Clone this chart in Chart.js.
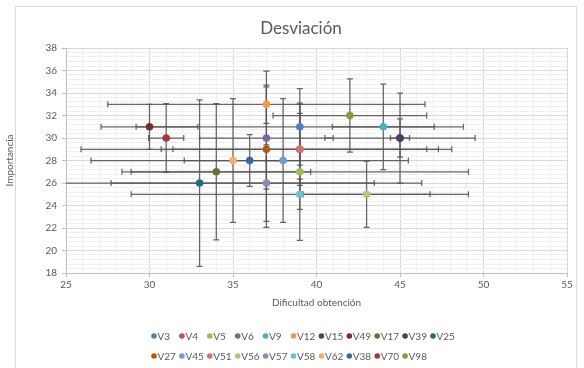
<!DOCTYPE html>
<html><head><meta charset="utf-8">
<script src="https://cdn.jsdelivr.net/npm/chart.js@4.4.0/dist/chart.umd.min.js"></script>
<style>
html,body{margin:0;padding:0;background:#fff;}
#wrap{position:relative;width:584px;height:368px;overflow:hidden;}
#frame{position:absolute;left:15px;top:6px;width:562px;height:420px;border:1px solid #d9d9d9;pointer-events:none;box-sizing:border-box;}
canvas{display:block;}
</style></head><body>
<div id="wrap"><canvas id="c" width="584" height="368"></canvas><div id="frame"></div></div>
<script>
const seriesNames   = ['V3','V4','V5','V6','V9','V12','V15','V49','V17','V39','V25','V27','V45','V51','V56','V57','V58','V62','V38','V70','V98'];
const difficulty    = [39, 39, 39, 37, 44, 37, 45, 30, 34, 45, 33, 37, 38, 39, 43, 37, 39, 35, 36, 31, 42];
const importance    = [31, 29, 27, 30, 31, 33, 30, 31, 27, 30, 26, 29, 28, 29, 25, 26, 25, 28, 28, 30, 32];
const difficultyErr = [9.8, 7.6, 10.1, 4.0, 3.05, 9.5, 0.57, 2.9, 5.65, 4.5, 10.46, 11.1, 1.0, 8.3, 3.8, 9.3, 10.1, 2.92, 9.5, 1.05, 4.6];
const importanceErr = [3.4, 4.0, 6.1, 4.55, 3.8, 1.7, 1.7, 2.0, 6.05, 4.0, 7.4, 6.95, 5.5, 3.2, 2.95, 3.4, 1.35, 5.5, 2.3, 3.05, 3.25];
const xMajorTicks   = [25, 30, 35, 40, 45, 50, 55];
const yMajorTicks   = [18, 20, 22, 24, 26, 28, 30, 32, 34, 36, 38];

const seriesColors = ['#4F81BD','#C0504D','#9BBB59','#8064A2','#4BACC6','#F79646','#2C4D75','#772C2A','#5F7530','#4D3B62','#276A7C','#B65708','#729ACA','#CD7371','#AFC97A','#9983B5','#6FBDD1','#F9AB6B','#3A679C','#9E3B38','#7E9D40'];

const FONT = 'Lato, "Open Sans", "Noto Sans", sans-serif';
const TXT = '#595959';
const isMajor = (arr, v) => arr.some(m => Math.abs(m - v) < 1e-6);

const N = seriesNames.length;
const datasets = seriesNames.map((name, i) => ({
  label: name,
  data: [{x: difficulty[i], y: importance[i]}],
  backgroundColor: seriesColors[i],
  borderColor: seriesColors[i],
  borderWidth: 0.5,
  pointRadius: 3.6,
  pointHoverRadius: 3.6,
  order: N - i
}));

const errorBars = {
  id: 'errorBars',
  beforeDatasetsDraw(chart) {
    const {ctx, chartArea: a, scales: {x, y}} = chart;
    ctx.save();
    ctx.beginPath();
    ctx.rect(a.left, a.top, a.right - a.left, a.bottom - a.top);
    ctx.clip();
    ctx.strokeStyle = 'rgba(85,85,85,0.9)';
    ctx.lineWidth = 1.25;
    const cap = 3;
    for (let i = 0; i < N; i++) {
      const px = x.getPixelForValue(difficulty[i]);
      const py = y.getPixelForValue(importance[i]);
      const x1 = x.getPixelForValue(difficulty[i] - difficultyErr[i]);
      const x2 = x.getPixelForValue(difficulty[i] + difficultyErr[i]);
      const y1 = y.getPixelForValue(importance[i] + importanceErr[i]);
      const y2 = y.getPixelForValue(importance[i] - importanceErr[i]);
      ctx.beginPath();
      ctx.moveTo(x1, py); ctx.lineTo(x2, py);
      ctx.moveTo(x1, py - cap); ctx.lineTo(x1, py + cap);
      ctx.moveTo(x2, py - cap); ctx.lineTo(x2, py + cap);
      ctx.moveTo(px, y1); ctx.lineTo(px, y2);
      ctx.moveTo(px - cap, y1); ctx.lineTo(px + cap, y1);
      ctx.moveTo(px - cap, y2); ctx.lineTo(px + cap, y2);
      ctx.stroke();
    }
    ctx.restore();
  }
};

const rowLegend = {
  id: 'rowLegend',
  afterDraw(chart) {
    const ctx = chart.ctx;
    ctx.save();
    ctx.font = '10px ' + FONT;
    ctx.textBaseline = 'middle';
    ctx.textAlign = 'left';
    const perRow = 11;
    for (let i = 0; i < N; i++) {
      const row = Math.floor(i / perRow);
      const col = i % perRow;
      const cx = 154 + col * 27.9;
      const cy = 336 + row * 20;
      ctx.fillStyle = seriesColors[i];
      ctx.beginPath();
      ctx.arc(cx, cy, 2.8, 0, Math.PI * 2);
      ctx.fill();
      ctx.fillStyle = TXT;
      ctx.fillText(seriesNames[i], cx + 3.5, cy + 0.5);
    }
    ctx.restore();
  }
};

const titlePos = {
  id: 'titlePos',
  afterLayout(chart) {
    if (chart.titleBlock) { chart.titleBlock.left = 20; chart.titleBlock.right = 582; }
  }
};

new Chart(document.getElementById('c'), {
  type: 'scatter',
  data: { datasets },
  plugins: [errorBars, rowLegend, titlePos],
  options: {
    responsive: false,
    animation: false,
    devicePixelRatio: 1,
    layout: { padding: { top: 2.6, right: 17, bottom: 55, left: 0 } },
    plugins: {
      legend: { display: false },
      tooltip: { enabled: false },
      title: {
        display: true,
        text: 'Desviación',
        color: TXT,
        font: { family: FONT, size: 17, weight: 'normal' },
        padding: { top: 16, bottom: 9 }
      }
    },
    scales: {
      x: {
        type: 'linear',
        min: 25, max: 55,
        afterFit(s) { s.height = 40; },
        ticks: {
          stepSize: 1, autoSkip: false, maxRotation: 0, padding: 2,
          color: TXT, font: { family: FONT, size: 10 },
          callback: v => isMajor(xMajorTicks, v) ? String(v) : ''
        },
        grid: {
          color: c => isMajor(xMajorTicks, c.tick.value) ? '#d9d9d9' : '#f0f0f0',
          tickColor: c => isMajor(xMajorTicks, c.tick.value) ? '#bfbfbf' : 'rgba(0,0,0,0)',
          tickLength: 4,
          lineWidth: 1
        },
        border: { display: true, color: '#bfbfbf' },
        title: {
          display: true, text: 'Dificultad obtención', color: TXT,
          font: { family: FONT, size: 10 }, padding: { top: 4, bottom: 4 }
        }
      },
      y: {
        type: 'linear',
        min: 18, max: 38,
        afterFit(s) { s.width = 66; },
        ticks: {
          stepSize: 0.4, autoSkip: false, padding: 5,
          color: TXT, font: { family: FONT, size: 10 },
          callback: v => isMajor(yMajorTicks, v) ? String(Math.round(v)) : ''
        },
        grid: {
          color: c => isMajor(yMajorTicks, c.tick.value) ? '#d9d9d9' : '#f0f0f0',
          tickColor: c => isMajor(yMajorTicks, c.tick.value) ? '#bfbfbf' : 'rgba(0,0,0,0)',
          tickLength: 4,
          lineWidth: 1
        },
        border: { display: true, color: '#bfbfbf' },
        title: {
          display: true, text: 'Importancia', color: TXT,
          font: { family: FONT, size: 10 }, padding: { top: 4, bottom: 4 }
        }
      }
    }
  }
});
</script>
</body></html>
